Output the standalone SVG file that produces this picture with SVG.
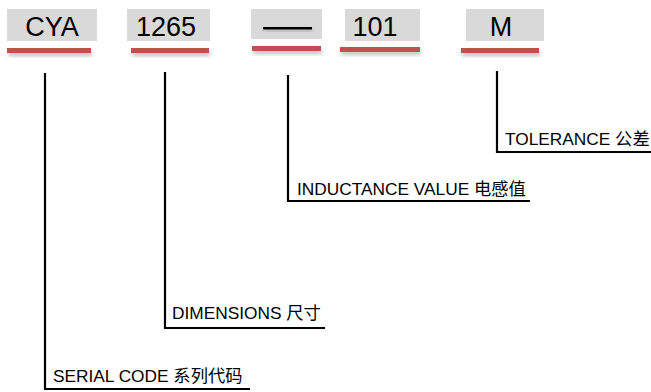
<svg xmlns="http://www.w3.org/2000/svg" width="651" height="392" viewBox="0 0 651 392">
<defs>
<filter id="sh" x="-10%" y="-50%" width="120%" height="250%">
<feDropShadow dx="1" dy="3" stdDeviation="2" flood-color="#000" flood-opacity="0.25"/>
</filter>
<style>
.box{fill:#d9d9d9;}
.bar{fill:#c0504d;filter:url(#sh);}
.code{font-family:"Liberation Sans",Arial,sans-serif;font-size:27px;fill:#000;text-anchor:middle;}
.lbl{font-family:"Liberation Sans",Arial,"Noto Sans CJK SC",sans-serif;font-size:17.3px;fill:#000;}
.ln{fill:none;stroke:#000;stroke-width:2.2;}
</style>
</defs>
<rect width="651" height="392" fill="#fff"/>
<g id="node-cya">
<rect class="box" x="7" y="9" width="90" height="32"/>
<text class="code" x="52" y="36">CYA</text>
<rect class="bar" x="7" y="48" width="84" height="5"/>
</g>
<g id="node-1265">
<rect class="box" x="127" y="9" width="83" height="32"/>
<text class="code" x="166" y="36">1265</text>
<rect class="bar" x="131" y="48" width="78" height="5"/>
</g>
<g id="node-dash">
<rect class="box" x="251" y="9" width="71" height="30"/>
<rect x="263" y="27" width="49" height="2.5" fill="#000" filter="url(#sh)"/>
<rect class="bar" x="252" y="46" width="69" height="5"/>
</g>
<g id="node-101">
<rect class="box" x="345" y="9" width="75" height="32"/>
<text class="code" x="375" y="36">101</text>
<rect class="bar" x="340" y="47" width="80" height="5"/>
</g>
<g id="node-m">
<rect class="box" x="466" y="9" width="78" height="32"/>
<text class="code" x="501" y="36">M</text>
<rect class="bar" x="461" y="48" width="78" height="5"/>
</g>
<g id="connectors">
<polyline class="ln" points="45,73 45,389 250,389"/>
<polyline class="ln" points="165,72 165,328 325,328"/>
<polyline class="ln" points="288,75 288,201 530,201"/>
<polyline class="ln" points="497,71 497,152 651,152"/>
</g>
<g id="label-tolerance"><text class="lbl" x="505" y="145">TOLERANCE 公差</text></g>
<g id="label-inductance"><text class="lbl" x="297" y="195">INDUCTANCE VALUE 电感值</text></g>
<g id="label-dimensions"><text class="lbl" x="172" y="319">DIMENSIONS 尺寸</text></g>
<g id="label-serial"><text class="lbl" x="53" y="382">SERIAL CODE 系列代码</text></g>
</svg>
